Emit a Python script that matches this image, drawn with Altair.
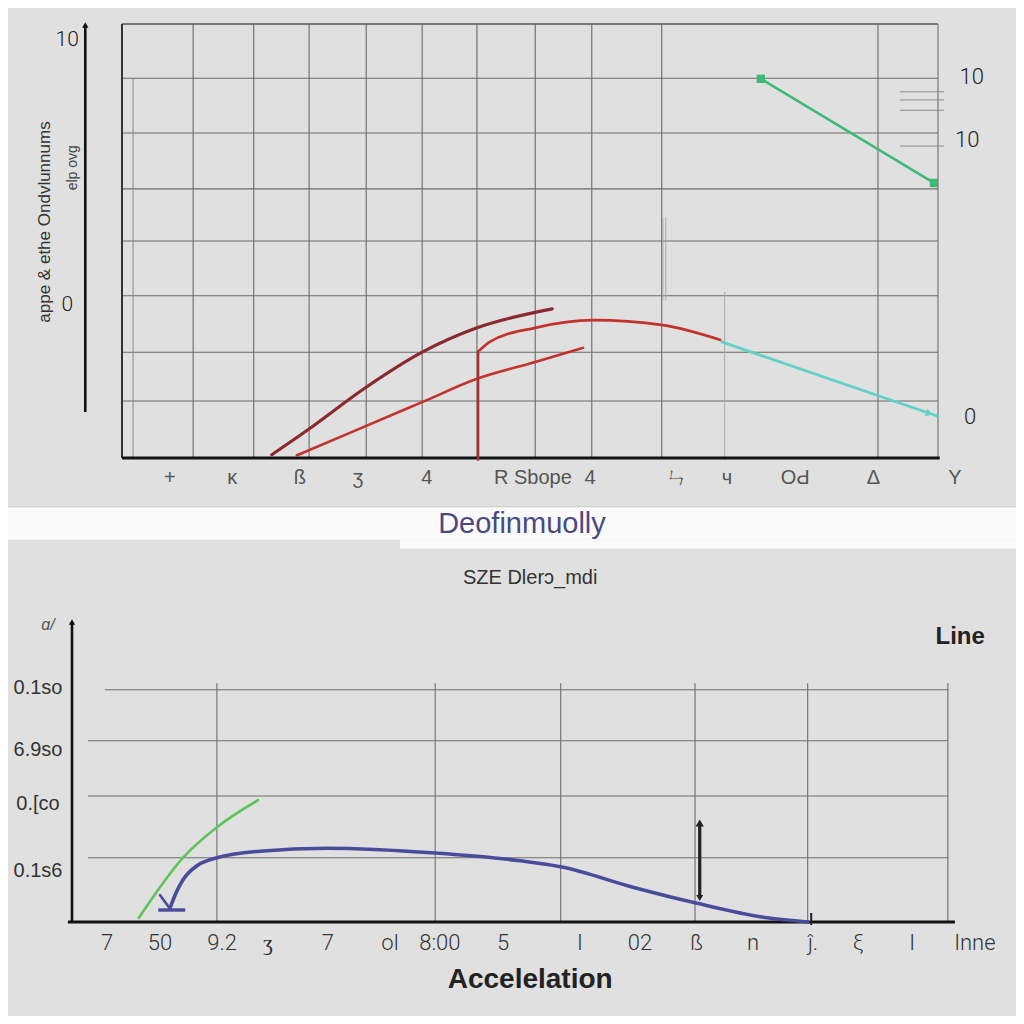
import altair as alt
import pandas as pd

# ---------------- data ----------------
# top panel (units: x 0..14, y 0..8)
top_grid_x = [1.22, 2.26, 3.21, 4.19, 5.15, 6.09, 7.09, 8.06, 9.26, 12.97]
top_grid_y = [1.05, 1.95, 2.99, 4.0, 4.96, 5.99, 7.0]

darkred_x = [2.57, 3.19, 4.17, 5.15, 6.09, 7.38]
darkred_y = [0.06, 0.52, 1.29, 1.95, 2.40, 2.75]
red1_x = [3.0, 4.1, 5.15, 6.09, 7.09, 7.91]
red1_y = [0.05, 0.55, 1.03, 1.46, 1.77, 2.03]
red2_x = [6.14, 6.31, 7.09, 8.08, 9.28, 10.26]
red2_y = [1.99, 2.14, 2.40, 2.54, 2.45, 2.18]
teal_x = [10.29, 14.0]
teal_y = [2.14, 0.77]
green_x = [10.96, 13.93]
green_y = [6.99, 5.07]
sketch_y = [6.75, 6.6, 6.41, 5.75]

top_tick_x = [0.82, 1.89, 3.05, 4.05, 5.23, 7.05, 8.03, 9.52, 10.38, 11.55, 12.89, 14.29]
top_tick_t = ["+", "ĸ", "ß", "ʒ", "4", "R Sbope", "4", "ㄣ", "ч", "OԀ", "Δ", "Y"]
top_right_y = [7.02, 5.86, 0.76]
top_right_t = ["10", "10", "0"]
top_left_y = [7.7, 2.82]
top_left_t = ["10", "0"]

# bottom panel (units: x 0..15, y 0..5)
bot_grid_x = [2.47, 6.19, 8.33, 10.62, 12.54, 14.93]
bot_grid_y = [1.07, 2.1, 3.02, 3.87]

bgreen_x = [1.14, 1.89, 2.47, 3.17]
bgreen_y = [0.07, 1.07, 1.58, 2.03]
blue_x = [1.67, 1.78, 1.89, 2.15, 2.47, 3.2, 4.35, 6.19, 7.64, 8.33, 9.56, 10.62, 11.85, 12.54]
blue_y = [0.23, 0.5, 0.7, 0.95, 1.07, 1.18, 1.23, 1.15, 1.02, 0.92, 0.58, 0.32, 0.07, 0.0]

bot_tick_x = [0.6, 1.5, 2.56, 3.34, 4.36, 5.42, 6.27, 7.35, 8.66, 9.68, 10.65, 11.61, 12.63, 13.4, 14.32, 15.39]
bot_tick_t = ["7", "50", "9.2", "ʒ", "7", "ol", "8:00", "5", "I", "02", "ß", "n", "ĵ.", "ξ", "I", "Inne"]
bot_ylab_y = [3.9, 2.87, 1.97, 0.85]
bot_ylab_t = ["0.1so", "6.9so", "0.[co", "0.1s6"]

# ---------------- scales ----------------
XS1 = alt.Scale(domain=[0, 14], range=[114, 930], nice=False, zero=False)
YS1 = alt.Scale(domain=[0, 8], range=[450, 16], nice=False, zero=False)
XS2 = alt.Scale(domain=[0, 15], range=[64, 944], nice=False, zero=False)
YS2 = alt.Scale(domain=[0, 5], range=[914, 614], nice=False, zero=False)

NARROW = "Liberation Sans Narrow, Liberation Sans, Arial, sans-serif"
layers = []


def enc(xs, ys):
    return dict(x=alt.X("x:Q", scale=xs, axis=None), y=alt.Y("y:Q", scale=ys, axis=None))


def line(x, y, s, color, width, interp="monotone"):
    df = pd.DataFrame({"x": x, "y": y, "o": list(range(len(x)))})
    return alt.Chart(df).mark_line(color=color, strokeWidth=width, interpolate=interp,
                                   strokeCap="round").encode(order="o:Q", **enc(*s))


def vrules(xv, y0, y1, s, color, width):
    df = pd.DataFrame({"x": xv, "y": [y0] * len(xv), "y2": [y1] * len(xv)})
    return alt.Chart(df).mark_rule(color=color, strokeWidth=width).encode(
        x=alt.X("x:Q", scale=s[0], axis=None), y=alt.Y("y:Q", scale=s[1], axis=None), y2="y2:Q")


def hrules(yv, x0, x1, s, color, width):
    df = pd.DataFrame({"y": yv, "x": [x0] * len(yv), "x2": [x1] * len(yv)})
    return alt.Chart(df).mark_rule(color=color, strokeWidth=width).encode(
        x=alt.X("x:Q", scale=s[0], axis=None), x2="x2:Q", y=alt.Y("y:Q", scale=s[1], axis=None))


def texts(x, y, t, s, **style):
    df = pd.DataFrame({"x": x, "y": y, "t": t})
    return alt.Chart(df).mark_text(**style).encode(text="t:N", **enc(*s))


def pts(x, y, s, shape, color, size, angle=0):
    df = pd.DataFrame({"x": x, "y": y})
    return alt.Chart(df).mark_point(shape=shape, color=color, filled=True, size=size,
                                     opacity=1, angle=angle).encode(**enc(*s))


def rect(x0, x1, y0, y1, s, color):
    df = pd.DataFrame({"x": [x0], "x2": [x1], "y": [y0], "y2": [y1]})
    return alt.Chart(df).mark_rect(color=color).encode(
        x=alt.X("x:Q", scale=s[0], axis=None), x2="x2:Q",
        y=alt.Y("y:Q", scale=s[1], axis=None), y2="y2:Q")


S1 = (XS1, YS1)
S2 = (XS2, YS2)

# ---------------- white band & title ----------------
layers.append(rect(-1.3, 16.5, 6.92, 6.37, S2, "#fafafa"))
layers.append(rect(5.59, 16.5, 6.37, 6.22, S2, "#fafafa"))
layers.append(hrules([6.92], -1.3, 16.5, S2, "#c8c8c8", 1))
layers.append(texts([7.67], [6.63], ["Deofinmuolly"], S2, font=NARROW, fontSize=29,
                    color="#4a4a80", align="center", baseline="middle"))

# ---------------- top panel ----------------
layers.append(vrules(top_grid_x, 0, 8, S1, "#6a6a6a", 1.1))
layers.append(hrules(top_grid_y, 0, 14, S1, "#6a6a6a", 1.1))
layers.append(hrules([8], 0, 14, S1, "#555555", 1.3))
layers.append(vrules([0], 0, 8, S1, "#333333", 2))
layers.append(vrules([14], 0, 8, S1, "#777777", 1.2))
layers.append(vrules([0.19], 0, 7.0, S1, "#8a8a8a", 1))
layers.append(vrules([9.28, 9.33], 2.91, 4.44, S1, "#aaaaaa", 1))
layers.append(vrules([10.34], -0.04, 3.06, S1, "#aaaaaa", 1))
layers.append(hrules(sketch_y, 13.35, 14.1, S1, "#8a8a8a", 1))
layers.append(hrules([0], 0, 14.03, S1, "#111111", 3.2))

layers.append(line(darkred_x, darkred_y, S1, "#8a2a2e", 3.2))
layers.append(line(red1_x, red1_y, S1, "#c4322c", 2.6))
layers.append(line(red2_x, red2_y, S1, "#c4322c", 2.8))
layers.append(vrules([6.11], -0.05, 1.99, S1, "#b52a25", 2.4))
layers.append(line(teal_x, teal_y, S1, "#62d2c4", 2.8, interp="linear"))
layers.append(pts([13.85], [0.82], S1, "triangle-right", "#62d2c4", 60, angle=20))
layers.append(line(green_x, green_y, S1, "#3fb97a", 2.6, interp="linear"))
layers.append(pts(green_x, green_y, S1, "square", "#3fb97a", 70))

# left free axis
layers.append(vrules([-0.63], 0.85, 7.98, S1, "#111111", 2.6))
layers.append(pts([-0.63], [7.98], S1, "triangle-up", "#111111", 40))
layers.append(texts([-0.94] * 2, top_left_y, top_left_t, S1, font="Roboto", fontWeight=300,
                    fontSize=21, color="#222222", align="center", baseline="middle"))
layers.append(texts([-1.32], [4.35], ["appe & ethe Ondvlunnums"], S1, font=NARROW, fontSize=17,
                    color="#333333", angle=270, align="center", baseline="middle"))
layers.append(texts([-0.84], [5.35], ["elp ovg"], S1, font=NARROW, fontSize=14,
                    color="#444444", angle=270, align="center", baseline="middle"))
# right labels
layers.append(texts([14.58, 14.5, 14.55], top_right_y, top_right_t, S1, font="Roboto",
                    fontWeight=300, fontSize=22, color="#222222", align="center", baseline="middle"))
# x tick glyphs
layers.append(texts(top_tick_x, [-0.37] * len(top_tick_x), top_tick_t, S1, font=NARROW,
                    fontSize=20, color="#555555", align="center", baseline="middle"))

# ---------------- bottom panel ----------------
layers.append(texts([7.81], [5.73], ["SZE Dlerɔ_mdi"], S2, font=NARROW, fontSize=20,
                    color="#333333", align="center", baseline="middle"))
layers.append(texts([15.14], [4.75], ["Line"], S2, font=NARROW, fontSize=24, fontWeight="bold",
                    color="#222222", align="center", baseline="middle"))
layers.append(vrules(bot_grid_x, 0, 3.98, S2, "#6e6e6e", 1.1))
layers.append(hrules(bot_grid_y[:3], 0.27, 14.93, S2, "#6e6e6e", 1.1))
layers.append(hrules(bot_grid_y[3:], 0.56, 14.93, S2, "#6e6e6e", 1.1))
layers.append(vrules([0], 0, 5.0, S2, "#111111", 2.6))
layers.append(pts([0], [5.0], S2, "triangle-up", "#111111", 40))
layers.append(hrules([0], -0.07, 15.05, S2, "#111111", 3.2))
layers.append(texts([-0.41], [4.95], ["ɑ/"], S2, font=NARROW, fontSize=16, fontStyle="italic",
                    color="#555555", align="center", baseline="middle"))
layers.append(texts([-0.58] * 4, bot_ylab_y, bot_ylab_t, S2, font=NARROW, fontSize=20,
                    color="#333333", align="center", baseline="middle"))

layers.append(line(bgreen_x, bgreen_y, S2, "#5ec45a", 2.6))
layers.append(line(blue_x, blue_y, S2, "#4b4b9b", 3.6))
layers.append(line([1.5, 1.67], [0.45, 0.22], S2, "#4b4b9b", 2.6, interp="linear"))
layers.append(hrules([0.2], 1.47, 1.93, S2, "#4b4b9b", 3.4))
# double arrow
layers.append(vrules([10.7], 0.45, 1.6, S2, "#222222", 3.2))
layers.append(pts([10.7], [1.65], S2, "triangle-up", "#222222", 70))
layers.append(pts([10.7], [0.4], S2, "triangle-down", "#222222", 50))
layers.append(vrules([12.6], -0.05, 0.15, S2, "#222222", 2))

layers.append(texts(bot_tick_x, [-0.35] * len(bot_tick_x), bot_tick_t, S2, font="Roboto",
                    fontWeight=300, fontSize=22, color="#333333", align="center", baseline="middle"))
layers.append(texts([7.81], [-0.97], ["Accelelation"], S2, font=NARROW, fontSize=28,
                    fontWeight="bold", color="#222222", align="center", baseline="middle"))

chart = (
    alt.layer(*layers)
    .resolve_scale(x="independent", y="independent")
    .properties(width=1008, height=1008, autosize=alt.AutoSizeParams(type="none"), padding=0)
    .configure(background="#e0e0e0")
    .configure_view(stroke=None)
)
chart.save("out.html", embed_options={"renderer": "svg", "actions": False})
